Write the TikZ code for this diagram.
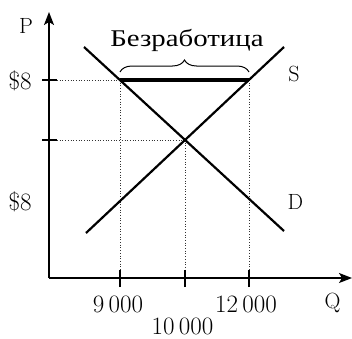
\documentclass[tikz,border=0pt]{standalone}
\usepackage{fontspec}
\newfontfamily\cyrfont[FakeStretch=1.2]{Liberation Serif}
\usetikzlibrary{arrows.meta,decorations.pathreplacing}
\tikzset{
  axis/.style  = {line width=1.4pt, -{Stealth[length=13pt, width=10pt, inset=3pt]}},
  curve/.style = {line width=2.2pt},
  guide/.style = {dotted, line width=0.7pt, black!80},
  tick/.style  = {line width=1.4pt},
  gap/.style   = {line width=4.8pt},
  brc/.style   = {line width=1pt, decorate, decoration={brace, amplitude=12pt}},
  num/.style   = {font=\fontsize{25}{30}\selectfont, inner sep=0pt, anchor=base},
  lett/.style  = {font=\fontsize{22}{26}\selectfont, inner sep=0pt, anchor=base},
  cyr/.style   = {font=\fontsize{24}{28}\cyrfont, inner sep=0pt, anchor=base},
}

\begin{document}
\begin{tikzpicture}[x=1pt, y=1pt]
  \useasboundingbox (0,0) rectangle (352,338);
  \coordinate (O) at (49,60);
  \coordinate (Ytop) at (49,326);
  \coordinate (Xend) at (352,60);
  \coordinate (A) at (120,258);   % surplus start
  \coordinate (B) at (249,258);   % surplus end
  \coordinate (E) at (185,198);   % equilibrium
  \coordinate (Dhi) at (84,291);
  \coordinate (Dlo) at (284,107);
  \coordinate (Slo) at (86,105);
  \coordinate (Shi) at (284,291);

  % guides
  \draw[guide] ([xshift=8pt]O |- A) -- (A);
  \draw[guide] ([xshift=8pt]O |- E) -- (E);
  \foreach \p in {A,E,B}
    \draw[guide] (\p) -- ([yshift=8pt]\p |- O);

  % axes and ticks
  \draw[axis] (O) -- (Ytop);
  \draw[axis] (O) -- (Xend);
  \foreach \p in {A,E}
    \draw[tick] ([xshift=-7pt]O |- \p) -- ([xshift=8pt]O |- \p);
  \foreach \p in {A,E,B}
    \draw[tick] ([yshift=-9pt]\p |- O) -- ([yshift=8pt]\p |- O);

  % curves
  \draw[curve] (Dhi) -- (Dlo);
  \draw[curve] (Slo) -- (Shi);
  \draw[gap] (A) -- (B);
  \draw[brc] ([yshift=8pt]A) -- ([yshift=8pt]B);

  % labels
  \node[cyr] (gaplab) at (187,291) {Безработица};
  \node[lett] (P) at (26,304.7) {P};
  \node[lett] (Q) at (332.5,30) {Q};
  \node[lett] (S) at (294,256.3) {S};
  \node[lett] (D) at (295.5,129) {D};
  \node[num] (p1) at (20,248.7) {\$8};
  \node[num] (p2) at (20,128) {\$8};
  \node[num] (q1) at (118,25.7) {9\,000};
  \node[num] (q2) at (246,25.7) {12\,000};
  \node[num] (q0) at (182.5,4) {10\,000};
\end{tikzpicture}
\end{document}
